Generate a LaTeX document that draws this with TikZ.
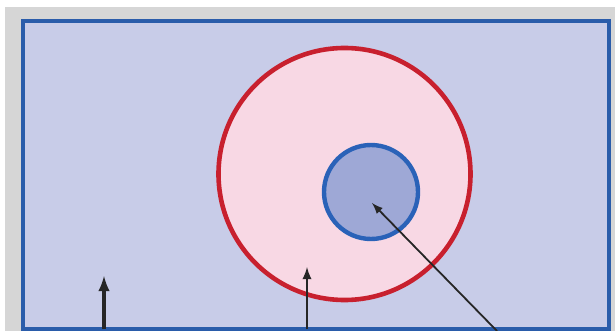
\documentclass[tikz,border=0pt]{standalone}
\usepackage{xcolor}
\usepackage{tikz}
\definecolor{framecolor}{HTML}{2A5CAA}
\definecolor{fieldcolor}{HTML}{C8CCE8}
\definecolor{ringcolor}{HTML}{C8202E}
\definecolor{discfill}{HTML}{F8D8E4}
\definecolor{corecolor}{HTML}{9EA8D6}
\definecolor{coreline}{HTML}{2A62B8}
\definecolor{pagegray}{HTML}{D6D6D6}

\begin{document}
\begin{tikzpicture}[
    x=0.5pt, y=-0.5pt,
    zone/.style={circle, draw, inner sep=0pt},
    pointer/.style={-latex, draw=black!85}
]
\useasboundingbox (0,0) rectangle (615,331);
\fill[pagegray] (5,7) rectangle (615,331);
\draw[framecolor, fill=fieldcolor, line width=2pt] (23,21) rectangle (609,329);

\node[zone, draw=ringcolor, fill=discfill, line width=2.3pt, minimum size=126pt] (outer) at (344.5,174) {};
\node[zone, draw=coreline, fill=corecolor, line width=2.2pt, minimum size=47pt] (inner) at (371,192) {};

\coordinate (tipa) at (104,276);
\coordinate (tipb) at (307,267);
\coordinate (tipc) at (372,203);
\coordinate (basea) at (104,329);
\coordinate (baseb) at (307,329);
\coordinate (basec) at (497,331);

\draw[pointer, line width=1.6pt] (basea) -- (tipa);
\draw[pointer, line width=1.1pt] (baseb) -- (tipb);
\draw[pointer, line width=0.9pt] (basec) -- (tipc);
\end{tikzpicture}
\end{document}
